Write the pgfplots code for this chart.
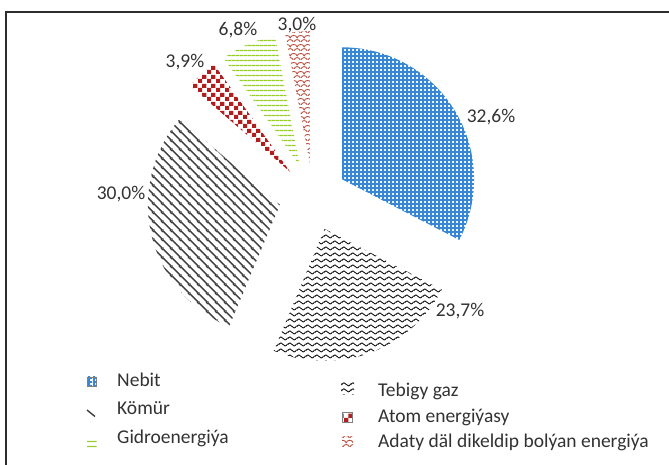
\documentclass[border=0pt]{standalone}
\usepackage{pgfplots}
\pgfplotsset{compat=1.18}
\usepackage{pgfplotstable}
\usepackage{fontspec}
\setmainfont{Carlito}
\usetikzlibrary{patterns}

\definecolor{cnebit}{RGB}{55,135,212}
\definecolor{cgas}{RGB}{15,15,15}
\definecolor{ckomur}{RGB}{60,60,60}
\definecolor{catom}{RGB}{176,30,30}
\definecolor{cgidro}{RGB}{150,205,45}
\definecolor{cadaty}{RGB}{185,75,60}
\definecolor{ctext}{RGB}{50,50,50}
\definecolor{cframe}{RGB}{45,45,45}

% Nebit: blue with small white holes
\pgfdeclarepatternformonly{nebit}{\pgfqpoint{0pt}{0pt}}{\pgfqpoint{4.4pt}{4.4pt}}{\pgfqpoint{4.4pt}{4.4pt}}{%
  \pgfpathrectangle{\pgfqpoint{0pt}{0pt}}{\pgfqpoint{4.4pt}{2.2pt}}%
  \pgfpathrectangle{\pgfqpoint{0pt}{2.2pt}}{\pgfqpoint{2.4pt}{2.2pt}}%
  \pgfusepath{fill}}
% Tebigy gaz: waves
\pgfdeclarepatternformonly{gaz}{\pgfqpoint{0pt}{0pt}}{\pgfqpoint{9pt}{5.5pt}}{\pgfqpoint{9pt}{5.5pt}}{%
  \pgfsetlinewidth{0.95pt}%
  \pgfpathmoveto{\pgfqpoint{-0.5pt}{2.1pt}}%
  \pgfpathcurveto{\pgfqpoint{1.2pt}{5.0pt}}{\pgfqpoint{3.3pt}{5.0pt}}{\pgfqpoint{4.5pt}{2.75pt}}%
  \pgfpathcurveto{\pgfqpoint{5.7pt}{0.5pt}}{\pgfqpoint{7.8pt}{0.5pt}}{\pgfqpoint{9.5pt}{3.4pt}}%
  \pgfusepath{stroke}}
% Komur: wide downward diagonal lines
\pgfdeclarepatternformonly{komur}{\pgfqpoint{0pt}{0pt}}{\pgfqpoint{8.5pt}{8.5pt}}{\pgfqpoint{8.5pt}{8.5pt}}{%
  \pgfsetlinewidth{1.45pt}%
  \pgfpathmoveto{\pgfqpoint{-1pt}{9.5pt}}\pgfpathlineto{\pgfqpoint{9.5pt}{-1pt}}%
  \pgfpathmoveto{\pgfqpoint{-1pt}{1pt}}\pgfpathlineto{\pgfqpoint{1pt}{-1pt}}%
  \pgfpathmoveto{\pgfqpoint{7.5pt}{9.5pt}}\pgfpathlineto{\pgfqpoint{9.5pt}{7.5pt}}%
  \pgfusepath{stroke}}
% Atom: checker board
\pgfdeclarepatternformonly{atom}{\pgfqpoint{0pt}{0pt}}{\pgfqpoint{8.6pt}{8.6pt}}{\pgfqpoint{8.6pt}{8.6pt}}{%
  \pgfpathrectangle{\pgfqpoint{0pt}{0pt}}{\pgfqpoint{4.3pt}{4.3pt}}%
  \pgfpathrectangle{\pgfqpoint{4.3pt}{4.3pt}}{\pgfqpoint{4.3pt}{4.3pt}}%
  \pgfusepath{fill}}
% Gidro: horizontal lines
\pgfdeclarepatternformonly{gidro}{\pgfqpoint{0pt}{0pt}}{\pgfqpoint{4pt}{5.4pt}}{\pgfqpoint{4pt}{5.4pt}}{%
  \pgfsetlinewidth{1.5pt}%
  \pgfpathmoveto{\pgfqpoint{-0.5pt}{2.7pt}}\pgfpathlineto{\pgfqpoint{4.5pt}{2.7pt}}%
  \pgfusepath{stroke}}
% Adaty: shingles
\pgfdeclarepatternformonly{adaty}{\pgfqpoint{0pt}{0pt}}{\pgfqpoint{7pt}{9pt}}{\pgfqpoint{7pt}{9pt}}{%
  \pgfsetlinewidth{0.95pt}%
  \pgfpathmoveto{\pgfqpoint{0pt}{0pt}}%
  \pgfpathcurveto{\pgfqpoint{1.2pt}{3.5pt}}{\pgfqpoint{5.8pt}{3.5pt}}{\pgfqpoint{7pt}{0pt}}%
  \pgfpathmoveto{\pgfqpoint{-3.5pt}{4.5pt}}%
  \pgfpathcurveto{\pgfqpoint{-2.3pt}{8pt}}{\pgfqpoint{2.3pt}{8pt}}{\pgfqpoint{3.5pt}{4.5pt}}%
  \pgfpathcurveto{\pgfqpoint{4.7pt}{8pt}}{\pgfqpoint{9.3pt}{8pt}}{\pgfqpoint{10.5pt}{4.5pt}}%
  \pgfusepath{stroke}}

% value (%), label x, label baseline y (image coordinates, y downward)
\pgfplotstableread{
value lx ly
32.6 491 123
23.7 460 317
30.0 121 200
3.9  185 68
6.8  238 36
3.0  297 31
}\piedata

\newcommand{\lf}{\fontsize{19.5}{23}\selectfont}

\begin{document}
\begin{tikzpicture}
\begin{axis}[scale only axis, width=669pt, height=465pt,
  xmin=0, xmax=669, ymin=0, ymax=465, hide axis, clip=false]
\pgfplotsextra{
  \draw[cframe, line width=1.5pt] (axis cs:6,0) -- (axis cs:6,453) -- (axis cs:669,453);
  \xdef\startang{90}
  \foreach \i/\pat/\col in {0/nebit/cnebit,1/gaz/cgas,2/komur/ckomur,3/atom/catom,4/gidro/cgidro,5/adaty/cadaty}{
    \pgfplotstablegetelem{\i}{value}\of\piedata
    \pgfmathsetmacro{\val}{\pgfplotsretval}
    \pgfplotstablegetelem{\i}{lx}\of\piedata \let\lx\pgfplotsretval
    \pgfplotstablegetelem{\i}{ly}\of\piedata \let\ly\pgfplotsretval
    \pgfmathsetmacro{\endang}{\startang-3.6*\val}
    \pgfmathsetmacro{\midang}{(\startang+\endang)/2}
    \pgfmathsetmacro{\px}{313+34*cos(\midang)}
    \pgfmathsetmacro{\py}{268+34*sin(\midang)}
    \fill[pattern=\pat, pattern color=\col] (axis cs:\px,\py) -- ++(\startang:132pt)
      arc[start angle=\startang, end angle=\endang, radius=132pt] -- cycle;
    \pgfmathsetmacro{\lyy}{465-\ly}
    \node[anchor=base, font=\lf, text=ctext, inner sep=0pt] at (axis cs:\lx,\lyy)
      {\pgfmathprintnumber[fixed,fixed zerofill,precision=1,use comma,assume math mode=true]{\val}\%};
    \xdef\startang{\endang}
  }
  % legend
  \fill[pattern=nebit, pattern color=cnebit] (axis cs:87,78.5) rectangle (axis cs:96.5,88);
  \draw[gray, line width=0.5pt] (axis cs:87,78.5) rectangle (axis cs:96.5,88);
  \draw[ckomur, line width=1.4pt] (axis cs:87,55) -- (axis cs:95,48.5);
  \fill[pattern=gidro, pattern color=cgidro] (axis cs:87,17.5) rectangle (axis cs:96.5,26);
  \fill[pattern=gaz, pattern color=cgas] (axis cs:341,70) rectangle (axis cs:354,83);
  \fill[pattern=atom, pattern color=catom] (axis cs:342.5,42.5) rectangle (axis cs:352.5,52.5);
  \draw[gray, line width=0.5pt] (axis cs:342.5,42.5) rectangle (axis cs:352.5,52.5);
  \fill[pattern=adaty, pattern color=cadaty] (axis cs:342,17) rectangle (axis cs:353,28);
  \node[anchor=base west, font=\lf, text=ctext, inner sep=0pt] at (axis cs:117,78) {Nebit};
  \node[anchor=base west, font=\lf, text=ctext, inner sep=0pt] at (axis cs:117,50) {Kömür};
  \node[anchor=base west, font=\lf, text=ctext, inner sep=0pt] at (axis cs:117,21) {Gidroenergiýa};
  \node[anchor=base west, font=\lf, text=ctext, inner sep=0pt] at (axis cs:378,68) {Tebigy gaz};
  \node[anchor=base west, font=\lf, text=ctext, inner sep=0pt] at (axis cs:378,42) {Atom energiýasy};
  \node[anchor=base west, font=\lf, text=ctext, inner sep=0pt] at (axis cs:378,17) {Adaty däl dikeldip bolýan energiýa};
}
\end{axis}
\pgfresetboundingbox
\useasboundingbox (0,0) rectangle (669pt,465pt);
\end{tikzpicture}
\end{document}
